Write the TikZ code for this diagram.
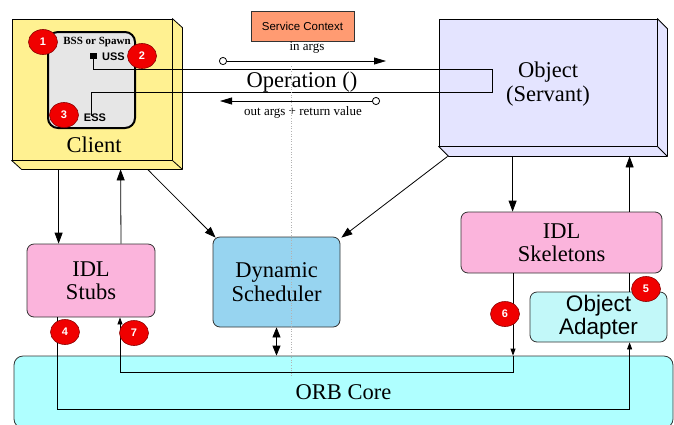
\documentclass[tikz,border=0pt]{standalone}
\usepackage{fontspec}
\setmainfont{Liberation Serif}
\setsansfont{Liberation Sans}
\usetikzlibrary{arrows.meta,calc,shapes.geometric}
\definecolor{clientyel}{HTML}{FFF191}
\definecolor{innergrey}{HTML}{E6E6E6}
\definecolor{objlav}{HTML}{E4E4FF}
\definecolor{idlpink}{HTML}{FBB4DC}
\definecolor{schedblue}{HTML}{97D4F0}
\definecolor{oacyan}{HTML}{C2F8F9}
\definecolor{orbcyan}{HTML}{AFFFFF}
\definecolor{svcsalmon}{HTML}{FF9B72}
\definecolor{badgered}{HTML}{F00000}
\definecolor{badgeedge}{HTML}{8A0000}
\begin{document}
\begin{tikzpicture}[x=1pt,y=-1pt,
  bigtxt/.style={font=\fontsize{22.5}{23.5}\selectfont, align=center},
  frontbox/.style={draw=black, line width=0.8pt, inner sep=0pt},
  rbox/.style={draw=black!80, line width=0.8pt, rounded corners=7pt, inner sep=0pt, bigtxt},
  badge/.style={ellipse, minimum width=29pt, minimum height=25pt, inner sep=0pt, fill=badgered, draw=badgeedge, line width=0.6pt, text=white, font=\sffamily\bfseries\fontsize{11}{11}\selectfont},
  arr/.style={-{Triangle[length=11pt,width=8pt]}, line width=0.8pt},
  sarr/.style={-{Triangle[length=7pt,width=5pt]}, line width=0.8pt},
  conn/.style={line width=0.8pt}
]
\useasboundingbox (0,0) rectangle (674,424);

% ORB core
\node[rbox, fill=orbcyan, minimum width=659pt, minimum height=72pt, rounded corners=9pt] (orb) at (343.5,392) {ORB Core};

% Client (3D box)
\node[frontbox, fill=clientyel, minimum width=160pt, minimum height=141pt] (client) at (92,89.5) {};
\draw[fill=clientyel, line width=0.8pt, line join=round] (client.north east) -- ($(client.north east)+(10,9)$) -- ($(client.south east)+(10,9)$) -- ($(client.south west)+(10,9)$) -- (client.south west) -- (client.south east) -- cycle;
\draw[line width=0.8pt] (client.south east) -- ($(client.south east)+(10,9)$);
\node[bigtxt] (clientlbl) at (94,145) {Client};
\node[draw=black, line width=2pt, fill=innergrey, rounded corners=10pt, minimum width=87pt, minimum height=96pt] (inner) at (91.5,80) {};
\node[font=\bfseries\fontsize{11}{11}\selectfont, inner sep=0pt] (bss) at (97,42) {BSS or Spawn};
\node[fill=black, minimum width=7pt, minimum height=6pt, inner sep=0pt] (ussq) at (93,56) {};
\node[anchor=west, font=\sffamily\bfseries\fontsize{11}{11}\selectfont, inner sep=0pt] (uss) at (102,57) {USS};
\node[font=\sffamily\bfseries\fontsize{11}{11}\selectfont, inner sep=0pt] (ess) at (95,118) {ESS};

% Object (3D box)
\node[frontbox, fill=objlav, minimum width=218pt, minimum height=127pt] (obj) at (548,82.5) {};
\draw[fill=objlav, line width=0.8pt, line join=round] (obj.north east) -- ($(obj.north east)+(10,10)$) -- ($(obj.south east)+(10,10)$) -- ($(obj.south west)+(10,10)$) -- (obj.south west) -- (obj.south east) -- cycle;
\draw[line width=0.8pt] (obj.south east) -- ($(obj.south east)+(10,10)$);
\node[bigtxt] (objlbl) at (548,84) {Object\\(Servant)};

% Service context
\node[draw=black!80, line width=0.8pt, fill=svcsalmon, minimum width=103pt, minimum height=30pt, inner sep=0pt, font=\sffamily\fontsize{11.5}{12}\selectfont] (svc) at (302.5,26) {Service Context};

% Operation strip
\coordinate (opne) at (492,69);
\coordinate (opse) at (492,92);
\draw[conn] (ussq.center) |- (opne) -- (opse) -| ([xshift=-4pt,yshift=-2pt]ess.north);
\node[bigtxt, inner sep=0pt] (oplbl) at (302,82) {Operation ()};

% in / out args
\coordinate (ina) at (219,61);
\coordinate (inb) at (386,61);
\coordinate (outa) at (380,101);
\coordinate (outb) at (220,101);
\draw[line width=0.8pt, {Circle[open,length=8pt,width=8pt,fill=white]}-{Triangle[length=12pt,width=7pt]}] (ina) -- (inb);
\draw[line width=0.8pt, {Circle[open,length=8pt,width=8pt,fill=white]}-{Triangle[length=12pt,width=7pt]}] (outa) -- (outb);
\node[font=\fontsize{13}{13}\selectfont, inner sep=0pt] (inlbl) at (307,48) {in args};
\node[font=\fontsize{13}{13}\selectfont, inner sep=0pt] (outlbl) at (303,112) {out args + return value};

% lower boxes
\node[rbox, fill=idlpink, minimum width=128pt, minimum height=73pt] (stubs) at (91,280.5) {IDL\\Stubs};
\node[rbox, fill=schedblue, minimum width=127pt, minimum height=90pt] (sched) at (276.5,282) {Dynamic\\Scheduler};
\node[rbox, fill=idlpink, minimum width=201pt, minimum height=61pt] (skel) at (561.5,242.5) {IDL\\Skeletons};
\node[rbox, fill=oacyan, minimum width=137pt, minimum height=50pt, font=\sffamily\fontsize{22.5}{23}\selectfont] (oa) at (598.5,317) {Object\\Adapter};

% client connectors
\coordinate (cbot1) at ($(client.south west)+(47,9)$);
\coordinate (cbot2) at ($(client.south west)+(109,9)$);
\coordinate (cbot3) at ($(client.south west)+(136,9)$);
\draw[arr] (cbot1) -- (cbot1 |- stubs.north);
\draw[arr] ([xshift=30pt]stubs.north) -- (cbot2);
\draw[arr] (cbot3) -- ([xshift=3pt,yshift=-1pt]sched.north west);

% object connectors
\coordinate (obot1) at ($(obj.south west)+(9,10)$);
\coordinate (obot2) at ($(obj.south west)+(74,10)$);
\coordinate (obot3) at ($(obj.south west)+(191,10)$);
\draw[arr] (obot1) -- ([xshift=1pt,yshift=-1pt]sched.north east);
\draw[arr] (obot2) -- (obot2 |- skel.north);
\draw[arr] (obot3 |- skel.north) -- (obot3);
\draw[conn] (obot3 |- oa.north) -- (obot3 |- skel.south);

% scheduler <-> ORB
\draw[line width=0.8pt, {Triangle[length=10pt,width=8pt]}-{Triangle[length=10pt,width=8pt]}] (sched.south) -- (sched.south |- orb.north);

% ORB loops
\coordinate (s4) at ([xshift=-34pt]stubs.south);
\coordinate (s7) at ([xshift=29pt]stubs.south);
\coordinate (k6) at ([xshift=-48.5pt]skel.south);
\draw[sarr] (s4) -- ++(0,92) -| (obot3 |- oa.south);
\draw[sarr] (k6) -- (k6 |- orb.north);
\draw[sarr] (k6 |- orb.north) -- ++(0,17) -| (s7);

% dotted centre line
\coordinate (dtop) at (291,66);
\coordinate (dbot) at (291,378);
\draw[black!30, line width=0.6pt, dotted] (dtop) -- (dbot);

% badges
\node[badge] (b1) at (43,42) {1};
\node[badge] (b2) at (142,56) {2};
\node[badge] (b3) at (64,115) {3};
\node[badge] (b4) at (65,332) {4};
\node[badge] (b5) at (646,289) {5};
\node[badge] (b6) at (505,314) {6};
\node[badge] (b7) at (134,333) {7};
\end{tikzpicture}
\end{document}
